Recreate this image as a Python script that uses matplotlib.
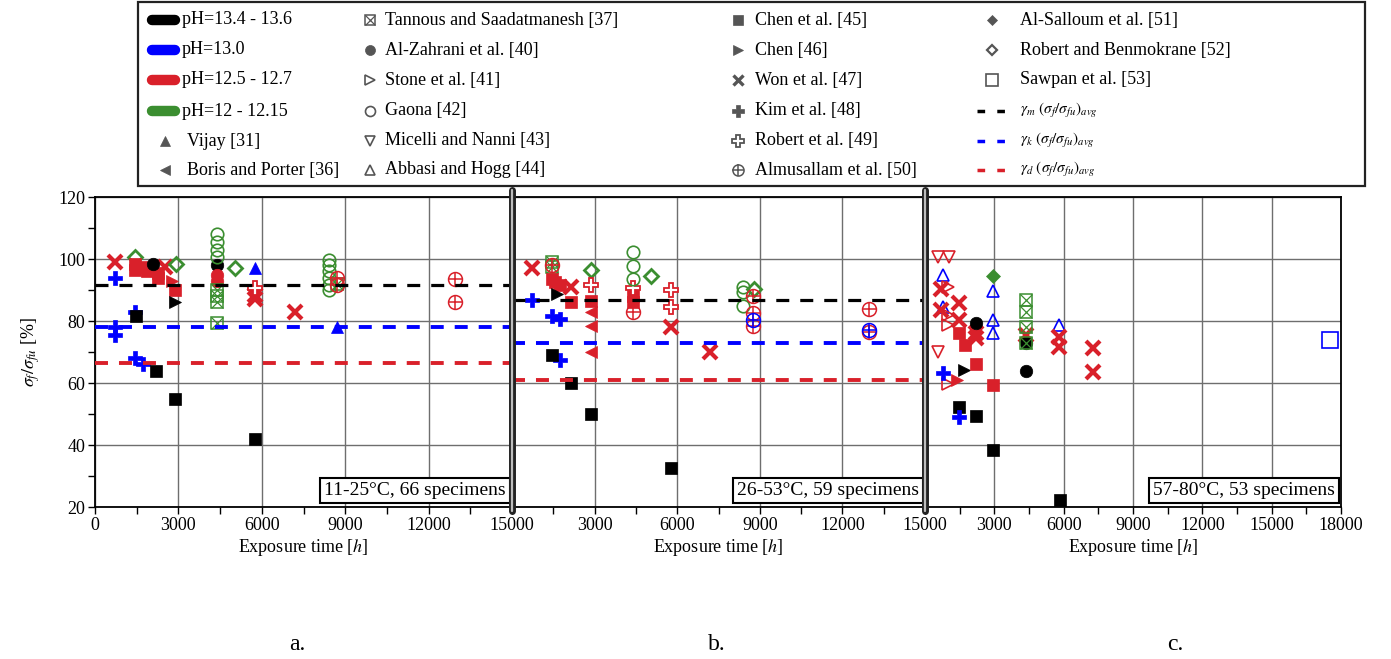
import matplotlib
matplotlib.use('Agg')
import matplotlib.pyplot as plt
from matplotlib.lines import Line2D
from matplotlib.patches import Rectangle
from matplotlib.ticker import MultipleLocator, FuncFormatter

plt.rcParams['font.family'] = 'serif'
plt.rcParams['font.serif'] = ['Liberation Serif', 'DejaVu Serif']
plt.rcParams['mathtext.fontset'] = 'stix'

W, H = 1391, 659

# pH groups: code -> colour / label
PH_CODES = ['k', 'b', 'r', 'g']
PH_LABELS = ['pH=13.4 - 13.6', 'pH=13.0', 'pH=12.5 - 12.7', 'pH=12 - 12.15']
PH_COLORS = {'k': 'black', 'b': '#0000ff', 'r': '#d9202a', 'g': '#3b8e30'}

# study keys and their legend labels
STUDY_KEYS = ['vijay', 'boris', 'tannous', 'zahrani', 'stone', 'gaona', 'micelli', 'abbasi',
              'chen45', 'chen46', 'won', 'kim', 'rob49', 'almus', 'salloum', 'rob52', 'sawpan']
STUDY_LABELS = ['Vijay [31]', 'Boris and Porter [36]', 'Tannous and Saadatmanesh [37]',
                'Al-Zahrani et al. [40]', 'Stone et al. [41]', 'Gaona [42]',
                'Micelli and Nanni [43]', 'Abbasi and Hogg [44]', 'Chen et al. [45]',
                'Chen [46]', 'Won et al. [47]', 'Kim et al. [48]', 'Robert et al. [49]',
                'Almusallam et al. [50]', 'Al-Salloum et al. [51]',
                'Robert and Benmokrane [52]', 'Sawpan et al. [53]']

# (study, pH code, exposure time [h], sigma_f/sigma_fu [%])
PANEL_A = [
    ('won', 'r', 720, 99), ('won', 'r', 2520, 97.5), ('won', 'r', 5760, 88.5),
    ('won', 'r', 5760, 87), ('won', 'r', 7200, 83),
    ('kim', 'b', 720, 94), ('kim', 'b', 720, 78), ('kim', 'b', 720, 75.5),
    ('kim', 'b', 1440, 83), ('kim', 'b', 1440, 68), ('kim', 'b', 1740, 66),
    ('rob52', 'g', 1440, 100.5), ('rob52', 'g', 2920, 98.3), ('rob52', 'g', 5040, 97),
    ('chen45', 'r', 1440, 98.5), ('chen45', 'r', 1440, 96.5), ('chen45', 'r', 1680, 97.5),
    ('chen45', 'r', 1860, 96), ('chen45', 'r', 2280, 95.5), ('chen45', 'r', 2280, 93.8),
    ('chen45', 'r', 2880, 90),
    ('chen45', 'k', 1460, 81.5), ('chen45', 'k', 2190, 64), ('chen45', 'k', 2880, 55),
    ('chen45', 'k', 5760, 42),
    ('zahrani', 'k', 2100, 98.5), ('zahrani', 'k', 4380, 98),
    ('zahrani', 'r', 4380, 95), ('zahrani', 'r', 4380, 93),
    ('chen46', 'r', 2760, 93), ('chen46', 'k', 2880, 86),
    ('gaona', 'g', 4380, 108), ('gaona', 'g', 4380, 105.5), ('gaona', 'g', 4380, 103),
    ('gaona', 'g', 4380, 100.5),
    ('gaona', 'g', 8400, 99.7), ('gaona', 'g', 8400, 98), ('gaona', 'g', 8400, 96),
    ('gaona', 'g', 8400, 94), ('gaona', 'g', 8400, 91.6), ('gaona', 'g', 8400, 90),
    ('tannous', 'g', 4380, 90), ('tannous', 'g', 4380, 88), ('tannous', 'g', 4380, 86),
    ('tannous', 'g', 4380, 79.5), ('tannous', 'g', 8700, 92),
    ('vijay', 'b', 5760, 97), ('vijay', 'b', 8700, 78.2),
    ('rob49', 'r', 5760, 90.5),
    ('almus', 'r', 8700, 94), ('almus', 'r', 8700, 91.6),
    ('almus', 'r', 12960, 93.5), ('almus', 'r', 12960, 86),
]

PANEL_B = [
    ('won', 'r', 720, 97), ('won', 'r', 2160, 91), ('won', 'r', 5760, 78.2),
    ('won', 'r', 7200, 70),
    ('kim', 'b', 720, 86.8), ('kim', 'b', 1440, 81.5), ('kim', 'b', 1740, 80.5),
    ('kim', 'b', 1740, 67.4),
    ('tannous', 'g', 1440, 99), ('tannous', 'g', 1440, 97.5),
    ('chen45', 'r', 1440, 93.5), ('chen45', 'r', 1560, 92.5), ('chen45', 'r', 1740, 91.5),
    ('chen45', 'r', 2160, 86), ('chen45', 'r', 2880, 86.5), ('chen45', 'r', 4380, 88),
    ('chen45', 'r', 4380, 86),
    ('chen45', 'k', 1440, 69), ('chen45', 'k', 2160, 60), ('chen45', 'k', 2880, 50),
    ('chen45', 'k', 5760, 32.5),
    ('chen46', 'k', 1620, 88.8),
    ('rob52', 'g', 2880, 96.5), ('rob52', 'g', 5040, 94.5), ('rob52', 'g', 8800, 90.3),
    ('rob49', 'r', 2880, 91.6), ('rob49', 'r', 4380, 90.5), ('rob49', 'r', 5760, 90),
    ('rob49', 'r', 5760, 84.6),
    ('boris', 'r', 2880, 83), ('boris', 'r', 2880, 78.4), ('boris', 'r', 2880, 70),
    ('gaona', 'g', 4380, 102.4), ('gaona', 'g', 4380, 97.8), ('gaona', 'g', 4380, 93.5),
    ('gaona', 'g', 8400, 91), ('gaona', 'g', 8400, 89.5), ('gaona', 'g', 8400, 85),
    ('almus', 'r', 1440, 98), ('almus', 'r', 4380, 83),
    ('almus', 'r', 8760, 88), ('almus', 'r', 8760, 82.6), ('almus', 'b', 8760, 80.3),
    ('almus', 'r', 8760, 78.4),
    ('almus', 'r', 12960, 84), ('almus', 'b', 12960, 77), ('almus', 'r', 12960, 76.5),
]

PANEL_C = [
    ('micelli', 'r', 550, 100.5), ('micelli', 'r', 1060, 100.7), ('micelli', 'r', 550, 70),
    ('abbasi', 'b', 770, 94.8), ('abbasi', 'b', 770, 84.6), ('abbasi', 'b', 2940, 89.6),
    ('abbasi', 'b', 2940, 80.3), ('abbasi', 'b', 2940, 76), ('abbasi', 'b', 5800, 78.7),
    ('stone', 'r', 1010, 91), ('stone', 'r', 1010, 82), ('stone', 'r', 1010, 78.7),
    ('stone', 'r', 1010, 59.7),
    ('chen46', 'r', 1370, 61), ('chen46', 'k', 1700, 64.2),
    ('won', 'r', 700, 90.2), ('won', 'r', 1480, 85.9), ('won', 'r', 700, 83.5),
    ('won', 'r', 1480, 80.3), ('won', 'r', 2200, 76), ('won', 'r', 2200, 74.5),
    ('won', 'r', 4380, 75.5), ('won', 'r', 5800, 75), ('won', 'r', 5800, 71.7),
    ('won', 'r', 7250, 71.2), ('won', 'r', 7250, 63.6),
    ('zahrani', 'k', 2200, 79.5), ('zahrani', 'k', 4380, 72.8), ('zahrani', 'k', 4380, 64),
    ('chen45', 'r', 1480, 76), ('chen45', 'r', 1710, 72.3), ('chen45', 'r', 2200, 66),
    ('chen45', 'r', 2940, 59.4),
    ('chen45', 'k', 1480, 52.2), ('chen45', 'k', 2200, 49.4), ('chen45', 'k', 2940, 38.4),
    ('chen45', 'k', 5830, 22.3),
    ('salloum', 'g', 2940, 94.5),
    ('tannous', 'g', 4380, 86.8), ('tannous', 'g', 4380, 83), ('tannous', 'g', 4380, 78.2),
    ('tannous', 'g', 4380, 72.8),
    ('kim', 'b', 770, 63.3), ('kim', 'b', 1480, 49.1),
    ('sawpan', 'b', 17520, 74),
]

PANELS = [PANEL_A, PANEL_B, PANEL_C]
X_MAX = [15000, 15000, 18000]
NOTES = ['11-25°C, 66 specimens', '26-53°C, 59 specimens', '57-80°C, 53 specimens']
TAGS = ['a.', 'b.', 'c.']
TAG_X = [297, 717, 1175]

# average lines per panel (gamma_m, gamma_k, gamma_d); None = not drawn
AVG_M = [91.6, 86.8, None]
AVG_K = [78.2, 72.8, None]
AVG_D = [66.5, 61.0, None]
AVG_COLORS = ['black', '#0000ff', '#d9202a']
AVG_LABELS = [r'$\gamma_m\ (\sigma_f/\sigma_{fu})_{avg}$',
              r'$\gamma_k\ (\sigma_f/\sigma_{fu})_{avg}$',
              r'$\gamma_d\ (\sigma_f/\sigma_{fu})_{avg}$']


def draw_study(ax, study, color, ts, vs, s=1.0, z=2):
    kw = dict(ls='none', zorder=z, clip_on=False)
    if study in ('vijay', 'boris', 'chen46', 'zahrani', 'chen45'):
        m = {'vijay': '^', 'boris': '<', 'chen46': '>', 'zahrani': 'o', 'chen45': 's'}[study]
        ax.plot(ts, vs, marker=m, ms=9 * s, mfc=color, mec=color, mew=0.5, **kw)
    elif study in ('stone', 'gaona', 'micelli', 'abbasi', 'sawpan'):
        m = {'stone': '>', 'gaona': 'o', 'micelli': 'v', 'abbasi': '^', 'sawpan': 's'}[study]
        size = {'gaona': 9, 'sawpan': 11}.get(study, 9)
        ax.plot(ts, vs, marker=m, ms=size * s, mfc='none', mec=color, mew=1.2, **kw)
    elif study == 'tannous':
        ax.plot(ts, vs, marker='s', ms=9 * s, mfc='none', mec=color, mew=1.1, **kw)
        ax.plot(ts, vs, marker='x', ms=9 * s, mec=color, mew=0.9, **kw)
    elif study == 'almus':
        ax.plot(ts, vs, marker='o', ms=10 * s, mfc='none', mec=color, mew=1.1, **kw)
        ax.plot(ts, vs, marker='+', ms=10 * s, mec=color, mew=1.1, **kw)
    elif study == 'won':
        ax.plot(ts, vs, marker='x', ms=9.5 * s, mec=color, mew=3 * s, **kw)
    elif study == 'kim':
        ax.plot(ts, vs, marker='P', ms=10 * s, mfc=color, mec=color, mew=0.5, **kw)
    elif study == 'rob49':
        ax.plot(ts, vs, marker='P', ms=10 * s, mfc='white', mec=color, mew=1.3, **kw)
    elif study == 'salloum':
        ax.plot(ts, vs, marker='D', ms=7 * s, mfc=color, mec=color, mew=0.5, **kw)
    elif study == 'rob52':
        ax.plot(ts, vs, marker='D', ms=7 * s, mfc='none', mec=color, mew=2.0 * s, **kw)


fig = plt.figure(figsize=(W / 100, H / 100), dpi=100)
gs = fig.add_gridspec(1, 3, left=95 / W, right=1341 / W, bottom=1 - 507 / H, top=1 - 197 / H,
                      wspace=0, width_ratios=[417, 413, 416])
axes = [fig.add_subplot(gs[0, i]) for i in range(3)]

label_fmt = FuncFormatter(lambda v, p: '' if v == 0 else f'{int(v)}')

for i, ax in enumerate(axes):
    ax.set_xlim(0, X_MAX[i])
    ax.set_ylim(20, 120)
    ax.xaxis.set_major_locator(MultipleLocator(3000))
    ax.xaxis.set_minor_locator(MultipleLocator(1500))
    ax.yaxis.set_major_locator(MultipleLocator(20))
    ax.yaxis.set_minor_locator(MultipleLocator(10))
    ax.grid(True, which='major', color='#6e6e6e', lw=1.0)
    ax.set_axisbelow(True)
    ax.tick_params(which='both', direction='out', length=5, width=1, labelsize=13, pad=2)
    for sp in ax.spines.values():
        sp.set_linewidth(1.3)
    if i > 0:
        ax.xaxis.set_major_formatter(label_fmt)
        ax.tick_params(axis='y', which='both', left=False, labelleft=False)
    ax.set_xlabel(r'Exposure time [$h$]', fontsize=13, labelpad=2)

    groups = {}
    for study, ph, t, v in PANELS[i]:
        groups.setdefault((study, ph), ([], []))
        groups[(study, ph)][0].append(t)
        groups[(study, ph)][1].append(v)
    for (study, ph), (ts, vs) in groups.items():
        draw_study(ax, study, PH_COLORS[ph], ts, vs)

    for vals, col in zip([AVG_M, AVG_K, AVG_D], AVG_COLORS):
        if vals[i] is not None:
            lw = 2.3 if col == 'black' else 2.8
            ax.axhline(vals[i], color=col, lw=lw, ls=(0, (13 / (lw * 1.39), 11 / (lw * 1.39))),
                       zorder=4)

    ax.text(0.985, 0.025, NOTES[i], transform=ax.transAxes, ha='right', va='bottom',
            fontsize=14, zorder=6,
            bbox=dict(boxstyle='square,pad=0.2', fc='white', ec='black', lw=1.5))

axes[0].set_ylabel(r'$\sigma_f/\sigma_{fu}$ [%]', fontsize=13, labelpad=12)

# thick double separators between the panels
for ax in axes[1:]:
    pos = ax.get_position()
    x = pos.x0
    for lw, col in [(5.0, '#222222'), (1.6, '#bdbdbd')]:
        fig.add_artist(Line2D([x, x], [pos.y0 - 4 / H, pos.y1 + 7 / H], lw=lw, color=col,
                              solid_capstyle='round', transform=fig.transFigure, zorder=10))

for tag, tx in zip(TAGS, TAG_X):
    fig.text(tx / W, 1 - 645 / H, tag, ha='center', va='center', fontsize=17)

# legend box
lax = fig.add_axes([138 / W, 1 - 186 / H, (1365 - 138) / W, 184 / H])
lax.set_xlim(138, 1365)
lax.set_ylim(186, 2)
lax.axis('off')
lax.add_patch(Rectangle((138, 2), 1227, 184, fill=False, lw=1.6, ec='#222222', clip_on=False))

ROW_Y = [20, 50, 80, 111, 141, 170]
GRAY = '#555555'
LEG_FS = 13

for j, (code, lab) in enumerate(zip(PH_CODES, PH_LABELS)):
    lax.plot([152, 175], [ROW_Y[j]] * 2, color=PH_COLORS[code], lw=7.5, solid_capstyle='round')
    lax.text(182, ROW_Y[j], lab, va='center', ha='left', fontsize=LEG_FS)

columns = [(STUDY_KEYS[0:2], 165, 187, ROW_Y[4:]),
           (STUDY_KEYS[2:8], 370, 385, ROW_Y),
           (STUDY_KEYS[8:14], 738, 755, ROW_Y),
           (STUDY_KEYS[14:17], 992, 1020, ROW_Y[:3])]
for keys, mx, tx, rows in columns:
    for key, y in zip(keys, rows):
        draw_study(lax, key, GRAY, [mx], [y], s=0.8, z=3)
        lax.text(tx, y, STUDY_LABELS[STUDY_KEYS.index(key)], va='center', ha='left',
                 fontsize=LEG_FS)

for k, (col, lab) in enumerate(zip(AVG_COLORS, AVG_LABELS)):
    y = ROW_Y[3 + k]
    lax.plot([977, 1005], [y, y], color=col, lw=2.5, ls=(0, (2.2, 3.5)))
    lax.text(1020, y, lab, va='center', ha='left', fontsize=11)

fig.savefig('out.png', dpi=100)
